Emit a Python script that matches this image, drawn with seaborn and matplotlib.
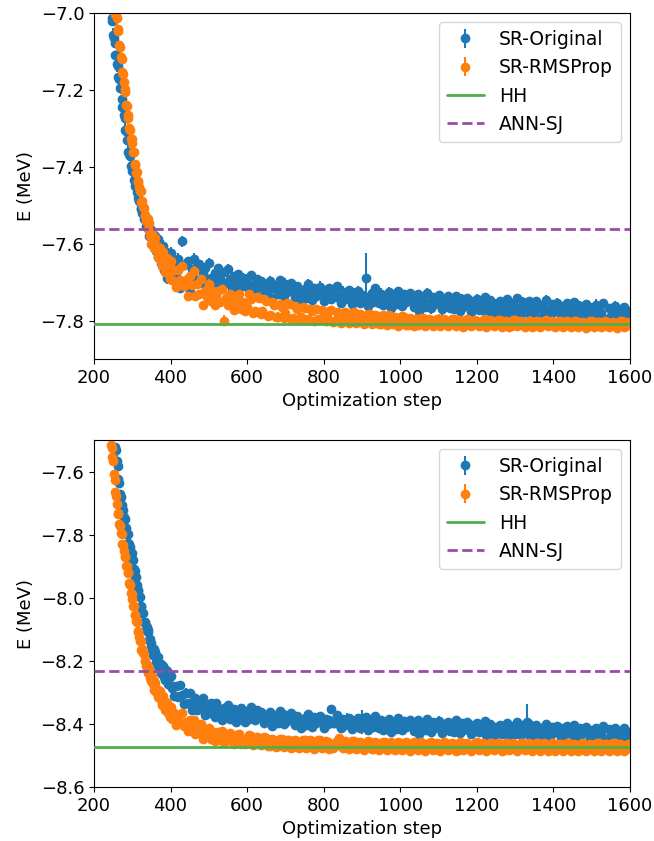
import numpy as np
import pandas as pd
import matplotlib
matplotlib.use("Agg")
import matplotlib.pyplot as plt
import seaborn as sns

# ---------------- data ----------------
early_steps = np.arange(240, 400, 2)     # steep part, sampled every 2 steps
late_steps = np.arange(400, 1601, 5)     # plateau, sampled every 5 steps
err_steps = np.arange(240, 1601, 10)     # error bars drawn every 10 steps

# ---- top panel ----
orig_top_early = [
    -6.944, -6.978, -6.988, -7.014, -7.021, -7.056, -7.066, -7.078, -7.108, -7.109,
    -7.132, -7.137, -7.167, -7.172, -7.195, -7.195, -7.223, -7.244, -7.243, -7.266,
    -7.274, -7.303, -7.308, -7.329, -7.331, -7.361, -7.366, -7.373, -7.398, -7.394,
    -7.412, -7.411, -7.435, -7.434, -7.451, -7.445, -7.466, -7.480, -7.472, -7.488,
    -7.489, -7.510, -7.507, -7.520, -7.514, -7.536, -7.535, -7.536, -7.555, -7.545,
    -7.559, -7.548, -7.579, -7.563, -7.583, -7.564, -7.587, -7.603, -7.578, -7.594,
    -7.580, -7.618, -7.596, -7.634, -7.589, -7.622, -7.613, -7.651, -7.609, -7.644,
    -7.605, -7.668, -7.623, -7.659, -7.622, -7.690, -7.637, -7.674, -7.624, -7.663,
]
orig_top_late = [
    -7.625, -7.692, -7.649, -7.676, -7.640, -7.715, -7.594, -7.655, -7.698, -7.644,
    -7.725, -7.666, -7.639, -7.693, -7.659, -7.652, -7.701, -7.677, -7.664, -7.697,
    -7.651, -7.689, -7.714, -7.675, -7.699, -7.662, -7.692, -7.713, -7.674, -7.702,
    -7.667, -7.693, -7.716, -7.684, -7.706, -7.680, -7.716, -7.697, -7.688, -7.709,
    -7.694, -7.718, -7.682, -7.708, -7.722, -7.692, -7.712, -7.698,
    -7.703, -7.733, -7.713, -7.723, -7.698, -7.741, -7.716, -7.707, -7.731, -7.695,
    -7.721, -7.735, -7.705, -7.725, -7.711, -7.701, -7.718, -7.738, -7.710, -7.728,
    -7.752, -7.727, -7.718, -7.742, -7.706, -7.732, -7.746, -7.716, -7.736, -7.722,
    -7.712, -7.729, -7.749, -7.721, -7.739, -7.714, -7.744, -7.724, -7.734, -7.709,
    -7.741, -7.755, -7.725, -7.745, -7.731, -7.721, -7.738, -7.758, -7.730, -7.748,
    -7.723, -7.753, -7.733, -7.743, -7.689, -7.761, -7.736, -7.727, -7.751, -7.715,
    -7.737, -7.755, -7.730, -7.760, -7.740, -7.750, -7.725, -7.768, -7.743, -7.734,
    -7.758, -7.722, -7.748, -7.762, -7.732, -7.752, -7.738, -7.728, -7.745, -7.765,
    -7.756, -7.731, -7.774, -7.749, -7.740, -7.764, -7.728, -7.754, -7.768, -7.738,
    -7.758, -7.744, -7.734, -7.751, -7.771, -7.743, -7.761, -7.736, -7.766, -7.746,
    -7.771, -7.735, -7.761, -7.775, -7.745, -7.765, -7.751, -7.741, -7.758, -7.778,
    -7.750, -7.768, -7.743, -7.773, -7.753, -7.763, -7.738, -7.781, -7.756, -7.747,
    -7.765, -7.785, -7.757, -7.775, -7.750, -7.780, -7.760, -7.770, -7.745, -7.788,
    -7.763, -7.754, -7.778, -7.742, -7.768, -7.782, -7.752, -7.772, -7.758, -7.748,
    -7.785, -7.765, -7.775, -7.750, -7.793, -7.768, -7.759, -7.783, -7.747, -7.773,
    -7.787, -7.757, -7.777, -7.763, -7.753, -7.770, -7.790, -7.762, -7.780, -7.755,
    -7.773, -7.764, -7.788, -7.752, -7.778, -7.792, -7.762, -7.782, -7.768, -7.758,
    -7.775, -7.795, -7.767, -7.785, -7.760, -7.790, -7.770, -7.780, -7.755, -7.798,
    -7.797, -7.767, -7.787, -7.773, -7.763, -7.780, -7.800, -7.772, -7.790, -7.765,
    -7.795, -7.775, -7.785,
]
orig_top_err_milli = [
    20, 18, 22, 16, 20, 18, 15, 20, 17, 15,
    14, 16, 13, 18, 15, 14, 17, 13, 16, 14,
    15, 13, 16, 14, 12, 15, 13, 14, 12, 15,
    12, 14, 11, 15, 12, 13, 16, 11, 14, 12,
    13, 11, 15, 12, 14, 10, 16, 12, 13, 11,
    14, 12, 13, 15, 11, 14, 12, 16, 13, 12,
    11, 14, 12, 13, 15, 12, 14, 66, 12, 13,
    12, 15, 11, 13, 14, 12, 16, 11, 13, 14,
    13, 11, 14, 12, 15, 13, 11, 14, 12, 13,
    12, 14, 13, 11, 15, 12, 13, 14, 11, 13,
    14, 12, 11, 13, 12, 15, 13, 11, 14, 12,
    12, 13, 14, 11, 13, 12, 15, 12, 11, 13,
    13, 12, 11, 14, 12, 13, 12, 15, 11, 12,
    12, 14, 13, 11, 13, 12, 14,
]

rms_top_early = [
    -6.883, -6.888, -6.919, -6.921, -6.941, -6.947, -6.974, -6.979, -7.002, -7.002,
    -7.014, -7.042, -7.047, -7.082, -7.089, -7.115, -7.120, -7.153, -7.159, -7.180,
    -7.198, -7.205, -7.238, -7.242, -7.264, -7.272, -7.299, -7.304, -7.327, -7.327,
    -7.339, -7.362, -7.362, -7.392, -7.394, -7.415, -7.413, -7.439, -7.438, -7.452,
    -7.463, -7.464, -7.491, -7.489, -7.505, -7.507, -7.527, -7.525, -7.541, -7.534,
    -7.535, -7.561, -7.547, -7.581, -7.572, -7.600, -7.576, -7.597, -7.586, -7.611,
    -7.585, -7.617, -7.606, -7.635, -7.610, -7.631, -7.610, -7.646, -7.632, -7.659,
    -7.622, -7.658, -7.641, -7.674, -7.640, -7.663, -7.637, -7.677, -7.658, -7.691,
]
rms_top_late = [
    -7.645, -7.694, -7.668, -7.712, -7.669, -7.695, -7.658, -7.711, -7.694, -7.737,
    -7.685, -7.708, -7.671, -7.737, -7.704, -7.730, -7.693, -7.759, -7.722, -7.738,
    -7.706, -7.748, -7.724, -7.760, -7.738, -7.724, -7.752, -7.718, -7.800, -7.740,
    -7.760, -7.730, -7.755, -7.773, -7.739, -7.760, -7.732, -7.769, -7.751, -7.775,
    -7.765, -7.730, -7.745, -7.780, -7.775, -7.738, -7.740, -7.782,
    -7.775, -7.745, -7.750, -7.788, -7.785, -7.752, -7.760, -7.790, -7.790, -7.758,
    -7.765, -7.792, -7.780, -7.755, -7.758, -7.795, -7.792, -7.762, -7.770, -7.796,
    -7.790, -7.765, -7.768, -7.798, -7.795, -7.770, -7.775, -7.800, -7.770, -7.795,
    -7.798, -7.772, -7.780, -7.802, -7.795, -7.775, -7.772, -7.803, -7.800, -7.778,
    -7.780, -7.805, -7.800, -7.778, -7.785, -7.806, -7.798, -7.780, -7.778, -7.805,
    -7.802, -7.782, -7.790, -7.808, -7.800, -7.784, -7.782, -7.808, -7.805, -7.785,
    -7.788, -7.810, -7.808, -7.786, -7.795, -7.812, -7.785, -7.806, -7.810, -7.790,
    -7.792, -7.814, -7.805, -7.788, -7.790, -7.812, -7.812, -7.792, -7.798, -7.815,
    -7.795, -7.812, -7.810, -7.793, -7.792, -7.814, -7.808, -7.795, -7.798, -7.815,
    -7.812, -7.796, -7.795, -7.813, -7.806, -7.797, -7.800, -7.815, -7.810, -7.796,
    -7.797, -7.814, -7.810, -7.798, -7.800, -7.816, -7.812, -7.797, -7.798, -7.814,
    -7.808, -7.799, -7.802, -7.815, -7.812, -7.798, -7.797, -7.816, -7.809, -7.799,
    -7.800, -7.815, -7.812, -7.798, -7.798, -7.816, -7.810, -7.800, -7.803, -7.817,
    -7.813, -7.799, -7.799, -7.815, -7.809, -7.801, -7.804, -7.817, -7.812, -7.800,
    -7.800, -7.817, -7.814, -7.801, -7.802, -7.816, -7.810, -7.800, -7.799, -7.815,
    -7.812, -7.802, -7.805, -7.818, -7.813, -7.800, -7.801, -7.816, -7.810, -7.802,
    -7.803, -7.818, -7.814, -7.801, -7.800, -7.816, -7.811, -7.803, -7.806, -7.819,
    -7.815, -7.802, -7.802, -7.817, -7.812, -7.803, -7.804, -7.818, -7.814, -7.802,
    -7.803, -7.818, -7.812, -7.803, -7.806, -7.819, -7.815, -7.802, -7.802, -7.817,
    -7.813, -7.804, -7.807,
]
rms_top_err_milli = [
    18, 16, 20, 15, 18, 16, 14, 17, 15, 14,
    13, 15, 12, 14, 13, 12, 14, 12, 13, 11,
    12, 11, 13, 10, 12, 11, 13, 10, 12, 11,
    14, 10, 12, 9, 11, 10, 12, 9, 11, 10,
    10, 9, 11, 10, 12, 9, 10, 11, 9, 10,
    11, 9, 10, 12, 9, 10, 11, 9, 10, 11,
    9, 10, 11, 9, 12, 10, 9, 11, 10, 9,
    10, 11, 9, 10, 12, 9, 11, 10, 9, 10,
    11, 9, 10, 11, 9, 10, 12, 9, 10, 11,
    9, 10, 11, 9, 10, 11, 9, 12, 10, 9,
    10, 9, 11, 10, 9, 12, 10, 9, 11, 10,
    11, 10, 9, 10, 11, 9, 10, 12, 9, 10,
    9, 11, 10, 9, 10, 11, 9, 10, 12, 9,
    10, 9, 11, 10, 9, 11, 10,
]

# ---- bottom panel ----
orig_bot_early = [
    -7.274, -7.318, -7.338, -7.374, -7.391, -7.436, -7.457, -7.480, -7.521, -7.533,
    -7.567, -7.582, -7.622, -7.637, -7.670, -7.680, -7.706, -7.725, -7.722, -7.743,
    -7.749, -7.776, -7.779, -7.798, -7.798, -7.826, -7.831, -7.838, -7.863, -7.859,
    -7.877, -7.881, -7.910, -7.914, -7.936, -7.935, -7.960, -7.978, -7.974, -7.994,
    -7.999, -8.026, -8.029, -8.048, -8.048, -8.076, -8.077, -8.080, -8.101, -8.093,
    -8.109, -8.103, -8.135, -8.129, -8.153, -8.143, -8.167, -8.181, -8.163, -8.181,
    -8.173, -8.204, -8.188, -8.217, -8.187, -8.213, -8.210, -8.237, -8.210, -8.241,
    -8.216, -8.251, -8.230, -8.261, -8.230, -8.255, -8.233, -8.273, -8.253, -8.275,
]
orig_bot_late = [
    -8.247, -8.285, -8.310, -8.281, -8.313, -8.277, -8.309, -8.335, -8.301, -8.332,
    -8.301, -8.357, -8.328, -8.316, -8.356, -8.329, -8.349, -8.318, -8.372, -8.343,
    -8.366, -8.334, -8.357, -8.377, -8.334, -8.370, -8.352, -8.388, -8.348, -8.369,
    -8.340, -8.383, -8.366, -8.351, -8.392, -8.358, -8.384, -8.350, -8.380, -8.393,
    -8.359, -8.383, -8.347, -8.373, -8.387, -8.357, -8.377, -8.363,
    -8.368, -8.398, -8.378, -8.388, -8.363, -8.406, -8.381, -8.372, -8.396, -8.360,
    -8.386, -8.400, -8.370, -8.390, -8.376, -8.366, -8.383, -8.403, -8.375, -8.393,
    -8.414, -8.389, -8.380, -8.404, -8.368, -8.394, -8.408, -8.378, -8.398, -8.384,
    -8.374, -8.391, -8.411, -8.383, -8.401, -8.386, -8.352, -8.396, -8.396, -8.371,
    -8.400, -8.414, -8.384, -8.404, -8.390, -8.380, -8.397, -8.417, -8.389, -8.407,
    -8.382, -8.412, -8.392, -8.402, -8.377, -8.420, -8.395, -8.386, -8.410, -8.374,
    -8.395, -8.413, -8.388, -8.418, -8.398, -8.408, -8.383, -8.426, -8.401, -8.392,
    -8.416, -8.380, -8.406, -8.420, -8.390, -8.410, -8.396, -8.386, -8.403, -8.423,
    -8.412, -8.387, -8.430, -8.405, -8.396, -8.420, -8.384, -8.410, -8.424, -8.394,
    -8.414, -8.400, -8.390, -8.407, -8.427, -8.399, -8.417, -8.392, -8.422, -8.402,
    -8.424, -8.388, -8.414, -8.428, -8.398, -8.418, -8.404, -8.394, -8.411, -8.431,
    -8.403, -8.421, -8.396, -8.426, -8.406, -8.416, -8.391, -8.434, -8.409, -8.400,
    -8.417, -8.437, -8.409, -8.427, -8.402, -8.432, -8.412, -8.422, -8.397, -8.440,
    -8.415, -8.406, -8.430, -8.394, -8.420, -8.434, -8.404, -8.424, -8.392, -8.400,
    -8.437, -8.417, -8.427, -8.402, -8.445, -8.420, -8.411, -8.435, -8.399, -8.425,
    -8.439, -8.409, -8.429, -8.415, -8.405, -8.422, -8.442, -8.414, -8.432, -8.407,
    -8.424, -8.415, -8.439, -8.403, -8.429, -8.443, -8.413, -8.433, -8.419, -8.409,
    -8.426, -8.446, -8.418, -8.436, -8.411, -8.441, -8.421, -8.431, -8.406, -8.449,
    -8.446, -8.416, -8.436, -8.422, -8.412, -8.429, -8.449, -8.421, -8.439, -8.414,
    -8.444, -8.424, -8.434,
]
orig_bot_err_milli = [
    20, 18, 22, 16, 20, 18, 16, 19, 17, 15,
    15, 16, 14, 17, 15, 14, 16, 13, 15, 14,
    14, 13, 15, 12, 14, 13, 15, 12, 14, 13,
    12, 14, 11, 13, 12, 14, 11, 13, 12, 11,
    13, 11, 12, 14, 11, 12, 13, 11, 12, 13,
    12, 11, 13, 12, 14, 11, 12, 13, 12, 11,
    12, 13, 25, 12, 13, 12, 38, 11, 12, 13,
    11, 12, 13, 11, 12, 14, 11, 12, 13, 12,
    12, 11, 13, 12, 11, 12, 14, 11, 12, 13,
    11, 13, 12, 11, 12, 13, 11, 12, 14, 11,
    12, 11, 13, 12, 11, 12, 13, 11, 12, 55,
    11, 12, 13, 11, 12, 14, 11, 12, 13, 11,
    12, 11, 12, 13, 11, 12, 13, 11, 12, 12,
    11, 13, 12, 11, 12, 13, 11,
]

rms_bot_early = [
    -7.463, -7.476, -7.515, -7.525, -7.553, -7.567, -7.608, -7.627, -7.664, -7.678,
    -7.704, -7.730, -7.733, -7.766, -7.771, -7.795, -7.798, -7.829, -7.833, -7.852,
    -7.868, -7.871, -7.900, -7.900, -7.918, -7.922, -7.952, -7.960, -7.986, -7.989,
    -8.004, -8.026, -8.025, -8.054, -8.055, -8.075, -8.076, -8.105, -8.107, -8.124,
    -8.138, -8.138, -8.164, -8.161, -8.176, -8.177, -8.199, -8.199, -8.217, -8.212,
    -8.215, -8.239, -8.225, -8.255, -8.244, -8.265, -8.249, -8.273, -8.265, -8.291,
    -8.271, -8.299, -8.289, -8.313, -8.291, -8.311, -8.294, -8.325, -8.315, -8.339,
    -8.310, -8.341, -8.328, -8.357, -8.331, -8.353, -8.332, -8.366, -8.351, -8.379,
]
rms_bot_late = [
    -8.345, -8.385, -8.366, -8.403, -8.370, -8.392, -8.366, -8.406, -8.394, -8.422,
    -8.388, -8.408, -8.386, -8.431, -8.406, -8.427, -8.400, -8.447, -8.421, -8.435,
    -8.413, -8.447, -8.425, -8.455, -8.437, -8.424, -8.451, -8.422, -8.459, -8.436,
    -8.451, -8.428, -8.449, -8.462, -8.435, -8.454, -8.432, -8.463, -8.446, -8.462,
    -8.460, -8.435, -8.438, -8.465, -8.462, -8.440, -8.445, -8.466,
    -8.462, -8.442, -8.445, -8.470, -8.468, -8.446, -8.450, -8.472, -8.470, -8.447,
    -8.448, -8.473, -8.466, -8.449, -8.452, -8.475, -8.472, -8.450, -8.455, -8.476,
    -8.470, -8.450, -8.452, -8.477, -8.474, -8.451, -8.455, -8.478, -8.468, -8.452,
    -8.450, -8.476, -8.472, -8.454, -8.458, -8.479, -8.462, -8.475, -8.470, -8.453,
    -8.445, -8.470, -8.475, -8.455, -8.458, -8.480, -8.470, -8.455, -8.455, -8.479,
    -8.476, -8.456, -8.460, -8.481, -8.472, -8.455, -8.456, -8.480, -8.478, -8.457,
    -8.460, -8.481, -8.475, -8.457, -8.458, -8.482, -8.478, -8.458, -8.462, -8.483,
    -8.474, -8.456, -8.459, -8.482, -8.480, -8.458, -8.463, -8.484, -8.476, -8.458,
    -8.460, -8.482, -8.478, -8.457, -8.462, -8.484, -8.475, -8.459, -8.458, -8.483,
    -8.480, -8.460, -8.465, -8.485, -8.476, -8.458, -8.460, -8.483, -8.479, -8.459,
    -8.462, -8.484, -8.481, -8.458, -8.460, -8.483, -8.476, -8.460, -8.465, -8.485,
    -8.479, -8.459, -8.458, -8.482, -8.477, -8.460, -8.463, -8.484, -8.480, -8.460,
    -8.461, -8.483, -8.478, -8.460, -8.464, -8.485, -8.481, -8.459, -8.459, -8.482,
    -8.476, -8.461, -8.466, -8.485, -8.479, -8.460, -8.460, -8.483, -8.477, -8.461,
    -8.463, -8.485, -8.480, -8.459, -8.460, -8.484, -8.477, -8.461, -8.465, -8.486,
    -8.482, -8.460, -8.461, -8.484, -8.478, -8.462, -8.464, -8.486, -8.480, -8.461,
    -8.460, -8.484, -8.478, -8.462, -8.466, -8.486, -8.481, -8.460, -8.462, -8.484,
    -8.477, -8.463, -8.465, -8.486, -8.480, -8.461, -8.461, -8.485, -8.479, -8.462,
    -8.464, -8.486, -8.481, -8.461, -8.460, -8.484, -8.478, -8.463, -8.466, -8.486,
    -8.480, -8.462, -8.463,
]
rms_bot_err_milli = [
    18, 16, 20, 15, 18, 16, 14, 17, 15, 14,
    13, 14, 12, 13, 12, 11, 13, 11, 12, 11,
    11, 10, 12, 9, 11, 10, 12, 9, 10, 11,
    10, 9, 11, 10, 9, 11, 10, 9, 10, 11,
    9, 10, 11, 9, 10, 11, 9, 10, 9, 10,
    10, 9, 10, 11, 9, 10, 9, 11, 10, 9,
    11, 9, 10, 9, 11, 10, 9, 10, 11, 9,
    9, 10, 11, 9, 10, 9, 11, 10, 9, 10,
    10, 9, 10, 11, 9, 10, 9, 10, 11, 9,
    9, 11, 10, 9, 10, 9, 11, 10, 9, 10,
    10, 9, 11, 10, 9, 10, 11, 9, 10, 9,
    9, 10, 9, 11, 10, 9, 10, 11, 9, 10,
    10, 9, 10, 9, 11, 10, 9, 10, 9, 11,
    9, 10, 11, 9, 10, 9, 10,
]

hh_energy = [-7.810, -8.474]
annsj_energy = [-7.563, -8.232]
ylims = [(-7.9, -7.0), (-8.6, -7.5)]
yticks = [[-7.8, -7.6, -7.4, -7.2, -7.0], [-8.6, -8.4, -8.2, -8.0, -7.8, -7.6]]
xticks = [200, 400, 600, 800, 1000, 1200, 1400, 1600]
series_labels = ["SR-Original", "SR-RMSProp", "HH", "ANN-SJ"]

for arr in (orig_top_early, rms_top_early, orig_bot_early, rms_bot_early):
    assert len(arr) == len(early_steps), len(arr)
for arr in (orig_top_late, rms_top_late, orig_bot_late, rms_bot_late):
    assert len(arr) == len(late_steps), len(arr)
for arr in (orig_top_err_milli, rms_top_err_milli, orig_bot_err_milli, rms_bot_err_milli):
    assert len(arr) == len(err_steps), len(arr)

steps = np.concatenate([early_steps, late_steps])

# ---------------- style ----------------
sns.set_theme(style="ticks", context="notebook")
plt.rcParams.update({
    "font.family": ["DejaVu Sans"],
    "font.size": 13,
    "axes.labelsize": 13,
    "xtick.labelsize": 13,
    "ytick.labelsize": 13,
    "legend.fontsize": 13.5,
    "axes.edgecolor": "black",
    "axes.linewidth": 0.8,
    "xtick.color": "black",
    "ytick.color": "black",
    "xtick.major.width": 0.8,
    "ytick.major.width": 0.8,
    "xtick.major.size": 3.5,
    "ytick.major.size": 3.5,
    "text.color": "black",
    "axes.labelcolor": "black",
    "axes.unicode_minus": True,
})

tab = sns.color_palette("tab10")
set1 = sns.color_palette("Set1")
c_orig, c_rms = tab[0], tab[1]
c_hh, c_ann = set1[2], set1[3]

fig = plt.figure(figsize=(6.54, 8.41), dpi=100)
ax_top = fig.add_axes([0.1437, 0.5731, 0.8196, 0.4114])
ax_bot = fig.add_axes([0.1437, 0.0640, 0.8196, 0.4128])

panels = [
    (ax_top, orig_top_early + orig_top_late, orig_top_err_milli,
     rms_top_early + rms_top_late, rms_top_err_milli),
    (ax_bot, orig_bot_early + orig_bot_late, orig_bot_err_milli,
     rms_bot_early + rms_bot_late, rms_bot_err_milli),
]

for i, (ax, yo, eo, yr, er) in enumerate(panels):
    so = pd.Series(yo, index=steps)
    sr = pd.Series(yr, index=steps)
    eo = np.asarray(eo) / 1000.0
    er = np.asarray(er) / 1000.0

    ax.errorbar(err_steps, so.loc[err_steps].values, yerr=eo, fmt="none",
                ecolor=c_orig, elinewidth=1.5, zorder=2.0)
    sns.scatterplot(x=steps, y=so.values, color=c_orig, s=36, edgecolor=c_orig,
                    linewidth=1.0, ax=ax, legend=False, zorder=2.1)
    ax.errorbar(err_steps, sr.loc[err_steps].values, yerr=er, fmt="none",
                ecolor=c_rms, elinewidth=1.5, zorder=2.2)
    sns.scatterplot(x=steps, y=sr.values, color=c_rms, s=36, edgecolor=c_rms,
                    linewidth=1.0, ax=ax, legend=False, zorder=2.3)

    l_hh = ax.axhline(hh_energy[i], color=c_hh, lw=2, zorder=3)
    l_ann = ax.axhline(annsj_energy[i], color=c_ann, lw=2, ls="--", zorder=3)

    # legend proxies in errorbar style
    p_o = ax.errorbar([np.nan], [np.nan], yerr=[np.nan], fmt="o", color=c_orig, markersize=6)
    p_r = ax.errorbar([np.nan], [np.nan], yerr=[np.nan], fmt="o", color=c_rms, markersize=6)
    ax.legend([p_o, p_r, l_hh, l_ann], series_labels, loc="upper right")

    ax.set_xlim(200, 1600)
    ax.set_ylim(*ylims[i])
    ax.set_xticks(xticks)
    ax.set_yticks(yticks[i])
    ax.set_yticklabels([f"{v:.1f}".replace("-", "\u2212") for v in yticks[i]])
    ax.set_xlabel("Optimization step")
    ax.set_ylabel("E (MeV)")
    ax.grid(False)

fig.savefig("out.png", dpi=100)
